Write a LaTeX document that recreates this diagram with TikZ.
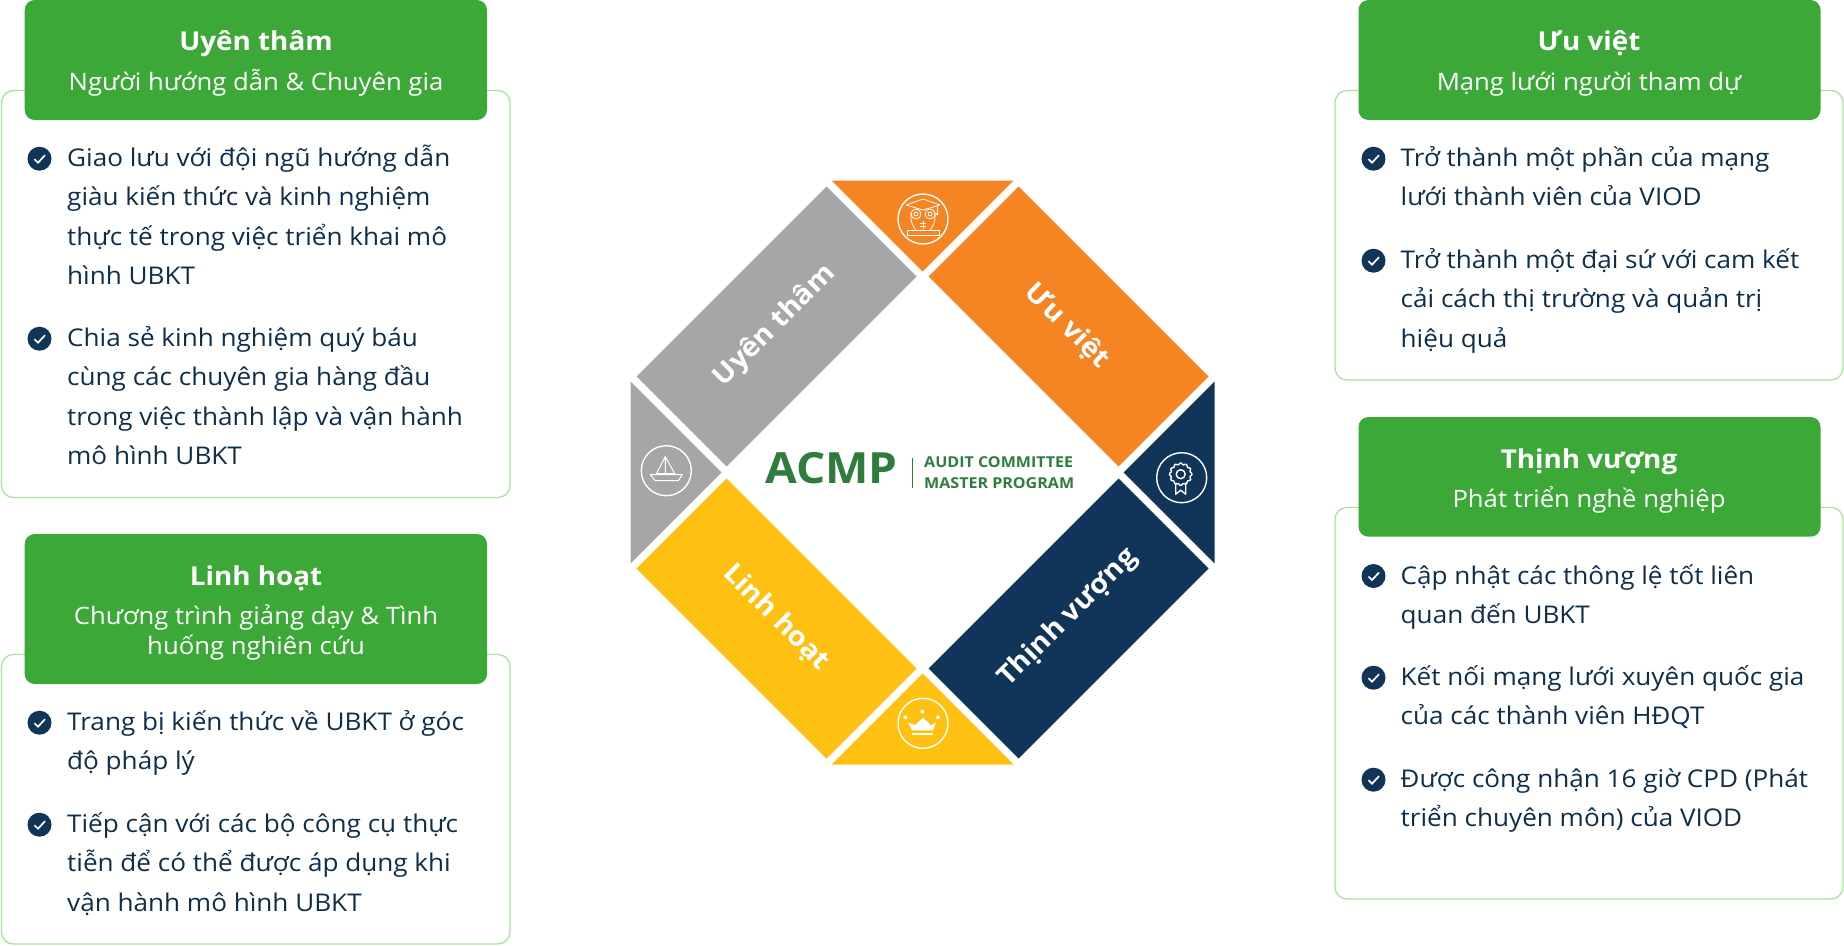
\documentclass[tikz,border=0pt]{standalone}
\usepackage{fontspec}
\setmainfont[FakeStretch=1.07]{Open Sans}
\definecolor{inkblue}{HTML}{0F2D4C}
\definecolor{cardgreen}{HTML}{3CA838}
\definecolor{cardline}{HTML}{A9E3A2}
\definecolor{logogreen}{HTML}{2E7D3E}
\definecolor{bandgray}{HTML}{A6A6A6}
\definecolor{bandorange}{HTML}{F58423}
\definecolor{bandnavy}{HTML}{103558}
\definecolor{bandyellow}{HTML}{FEC111}
\tikzset{
  cardbox/.style={draw=cardline,line width=1.3pt,fill=white,rounded corners=12pt},
  headbox/.style={fill=cardgreen,rounded corners=10pt},
  headtitle/.style={anchor=base,inner sep=0pt,text=white,font=\fontsize{26}{30}\selectfont\bfseries},
  headsub/.style={anchor=base,inner sep=0pt,text=white,align=center,font=\fontsize{24}{30}\selectfont},
  bodytext/.style={anchor=base west,inner sep=0pt,yshift=-1pt,text=inkblue,font=\fontsize{24.4}{39.2}\selectfont},
  tickdot/.style={circle,fill=bandnavy,minimum size=24pt,inner sep=0pt},
  bandtext/.style={inner sep=0pt,text=white,font=\fontsize{27}{32}\selectfont\bfseries},
  iconline/.style={draw=white,line width=1pt,line join=round}
}
% one bullet: navy dot and white tick
\newcommand{\tickmark}[3]{
  \node[tickdot] (#1) at (#2,#3) {};
  \draw[white,line width=1.7pt] (#2-5,#3+0.5)--(#2-1.5,#3+4)--(#2+5.5,#3-3.5);
}
\begin{document}
\begin{tikzpicture}[x=1pt,y=-1pt]
  \useasboundingbox (0,0) rectangle (1844,945);
  % octagon
  \fill[bandorange] (831.5,180.5)--(1013.5,180.5)--(922.5,271.5)--cycle;
  \fill[bandnavy] (1214.5,381.5)--(1214.5,563.5)--(1123.5,472.5)--cycle;
  \fill[bandyellow] (831.5,764.5)--(1013.5,764.5)--(922.5,673.5)--cycle;
  \fill[bandgray] (630.5,381.5)--(630.5,563.5)--(721.5,472.5)--cycle;
  \fill[bandgray] (826.5,186.5)--(916.5,276.5)--(726.5,466.5)--(636.5,376.5)--cycle;
  \fill[bandorange] (1018.5,186.5)--(1208.5,376.5)--(1118.5,466.5)--(928.5,276.5)--cycle;
  \fill[bandyellow] (636.5,568.5)--(826.5,758.5)--(916.5,668.5)--(726.5,478.5)--cycle;
  \fill[bandnavy] (1208.5,568.5)--(1018.5,758.5)--(928.5,668.5)--(1118.5,478.5)--cycle;
  \node[bandtext,rotate=45] (uyen) at (775,326) {Uyên thâm};
  \node[bandtext,rotate=-45] (uuviet) at (1067,326) {Ưu việt};
  \node[bandtext,rotate=-45] (linh) at (776,618) {Linh hoạt};
  \node[bandtext,rotate=45] (thinh) at (1068,618) {Thịnh vượng};
  % logo
  \node[anchor=base west,inner sep=0pt,text=logogreen,font=\fontsize{43}{43}\selectfont\bfseries] (acmp) at (765,483) {ACMP};
  \draw[logogreen,line width=0.7pt] (912.5,458)--(912.5,488);
  \node[anchor=base west,inner sep=0pt,text=logogreen,font=\fontsize{15}{15}\selectfont\bfseries] (audit) at (924,467) {AUDIT COMMITTEE};
  \node[anchor=base west,inner sep=0pt,text=logogreen,font=\fontsize{15}{15}\selectfont\bfseries] (master) at (924,488) {MASTER PROGRAM};
  % owl
  \begin{scope}[shift={(923,219)}]
    \draw[iconline,line width=1.4pt] (0,0) circle (25);
    \draw[iconline,line width=0.8pt] (-17,-14)--(0,-20)--(17,-14)--(0,-9)--cycle;
    \draw[iconline,line width=0.8pt] (-7,-5) circle (5) (7,-5) circle (5) (-7,-5) circle (2) (7,-5) circle (2);
    \draw[iconline,line width=0.8pt] (-12,-7)..controls (-13,4) and (-9,9) .. (-7,11) (12,-7)..controls (13,4) and (9,9) .. (7,11);
    \draw[iconline,line width=0.8pt] (-16,11) rectangle (16,16);
    \draw[iconline,line width=0.8pt] (14,-13)--(14,-6);
    \fill[white] (14,-5) circle (1.5);
    \draw[iconline,line width=0.8pt] (0,2)--(0,10) (-3,4)--(3,4) (-3,7)--(3,7);
  \end{scope}
  % rosette
  \begin{scope}[shift={(1181.7,477.7)}]
    \draw[iconline,line width=1.4pt] (0,0) circle (25);
    \draw[iconline,line width=1.4pt,shift={(-1,-3.5)}] plot[smooth cycle,samples=49,domain=0:352.5] ({(10.5+0.9*cos(12*\x))*cos(\x)},{(10.5+0.9*cos(12*\x))*sin(\x)});
    \draw[iconline,line width=1.4pt] (-1,-3.5) circle (4.5);
    \draw[iconline,line width=1.4pt] (-6,5)--(-6,16.5)--(-1,12.5)--(4,16.5)--(4,5);
  \end{scope}
  % boat
  \begin{scope}[shift={(666.3,470.7)}]
    \draw[iconline,line width=1.4pt] (0,0) circle (25);
    \draw[iconline] (-1,-14)--(-10,3)--(8.5,3)--cycle (-1,-14)--(-1,3);
    \draw[iconline] (-16,4)--(16,4)--(12,10)--(-11,10)--cycle;
  \end{scope}
  % crown
  \begin{scope}[shift={(923,723.3)}]
    \draw[iconline,line width=1.4pt] (0,0) circle (25);
    \fill[white] (-15,-1)--(-8,2)--(0,-5.7)--(8,2)--(13,-1)--(10,7)--(-11,7)--cycle;
    \fill[white] (-11,9.3) rectangle (10,11.7);
    \fill[white] (-17.7,-6) circle (2) (-0.7,-11.7) circle (2) (15,-6) circle (2);
  \end{scope}
  % top left card
  \draw[cardbox] (1.5,90.5) rectangle (510,497.5);
  \fill[headbox] (24.7,0) rectangle (487,120);
  \node[headtitle] (h1) at (256,50.7) {Uyên thâm};
  \node[headsub] (s1) at (256,90) {Người hướng dẫn \& Chuyên gia};
  \tickmark{t11}{39.5}{158.7}
  \node[bodytext] (b11) at (67,165.7) {Giao lưu với đội ngũ hướng dẫn};
  \node[bodytext] (b11b) at (67,204.9) {giàu kiến thức và kinh nghiệm};
  \node[bodytext] (b11c) at (67,244.1) {thực tế trong việc triển khai mô};
  \node[bodytext] (b11d) at (67,283.3) {hình UBKT};
  \tickmark{t12}{39.5}{338.7}
  \node[bodytext] (b12) at (67,345.7) {Chia sẻ kinh nghiệm quý báu};
  \node[bodytext] (b12b) at (67,384.9) {cùng các chuyên gia hàng đầu};
  \node[bodytext] (b12c) at (67,424.1) {trong việc thành lập và vận hành};
  \node[bodytext] (b12d) at (67,463.3) {mô hình UBKT};
  % bottom left card
  \draw[cardbox] (1.5,654.5) rectangle (510,944);
  \fill[headbox] (24.7,534) rectangle (487,684);
  \node[headtitle] (h2) at (256,585) {Linh hoạt};
  \node[headsub] (s2) at (256,624) {Chương trình giảng dạy \& Tình};
  \node[headsub] (s2b) at (256,654) {huống nghiên cứu};
  \tickmark{t21}{39.5}{722.7}
  \node[bodytext] (b21) at (67,729.7) {Trang bị kiến thức về UBKT ở góc};
  \node[bodytext] (b21b) at (67,768.9) {độ pháp lý};
  \tickmark{t22}{39.5}{824.7}
  \node[bodytext] (b22) at (67,831.7) {Tiếp cận với các bộ công cụ thực};
  \node[bodytext] (b22b) at (67,870.9) {tiễn để có thể được áp dụng khi};
  \node[bodytext] (b22c) at (67,910.1) {vận hành mô hình UBKT};
  % top right card
  \draw[cardbox] (1335,90.5) rectangle (1843,380);
  \fill[headbox] (1358.5,0) rectangle (1820.5,120);
  \node[headtitle] (h3) at (1589,50.7) {Ưu việt};
  \node[headsub] (s3) at (1589,90) {Mạng lưới người tham dự};
  \tickmark{t31}{1373.5}{158.7}
  \node[bodytext] (b31) at (1400.5,165.7) {Trở thành một phần của mạng};
  \node[bodytext] (b31b) at (1400.5,204.9) {lưới thành viên của VIOD};
  \tickmark{t32}{1373.5}{260.7}
  \node[bodytext] (b32) at (1400.5,267.7) {Trở thành một đại sứ với cam kết};
  \node[bodytext] (b32b) at (1400.5,306.9) {cải cách thị trường và quản trị};
  \node[bodytext] (b32c) at (1400.5,346.1) {hiệu quả};
  % bottom right card
  \draw[cardbox] (1335,507.5) rectangle (1843,899);
  \fill[headbox] (1358.5,417) rectangle (1820.5,536.7);
  \node[headtitle] (h4) at (1589,468) {Thịnh vượng};
  \node[headsub] (s4) at (1589,507) {Phát triển nghề nghiệp};
  \tickmark{t41}{1373.5}{576}
  \node[bodytext] (b41) at (1400.5,583) {Cập nhật các thông lệ tốt liên};
  \node[bodytext] (b41b) at (1400.5,622.2) {quan đến UBKT};
  \tickmark{t42}{1373.5}{677.7}
  \node[bodytext] (b42) at (1400.5,684.7) {Kết nối mạng lưới xuyên quốc gia};
  \node[bodytext] (b42b) at (1400.5,723.9) {của các thành viên HĐQT};
  \tickmark{t43}{1373.5}{779.7}
  \node[bodytext] (b43) at (1400.5,786.7) {Được công nhận 16 giờ CPD (Phát};
  \node[bodytext] (b43b) at (1400.5,825.9) {triển chuyên môn) của VIOD};
\end{tikzpicture}
\end{document}
